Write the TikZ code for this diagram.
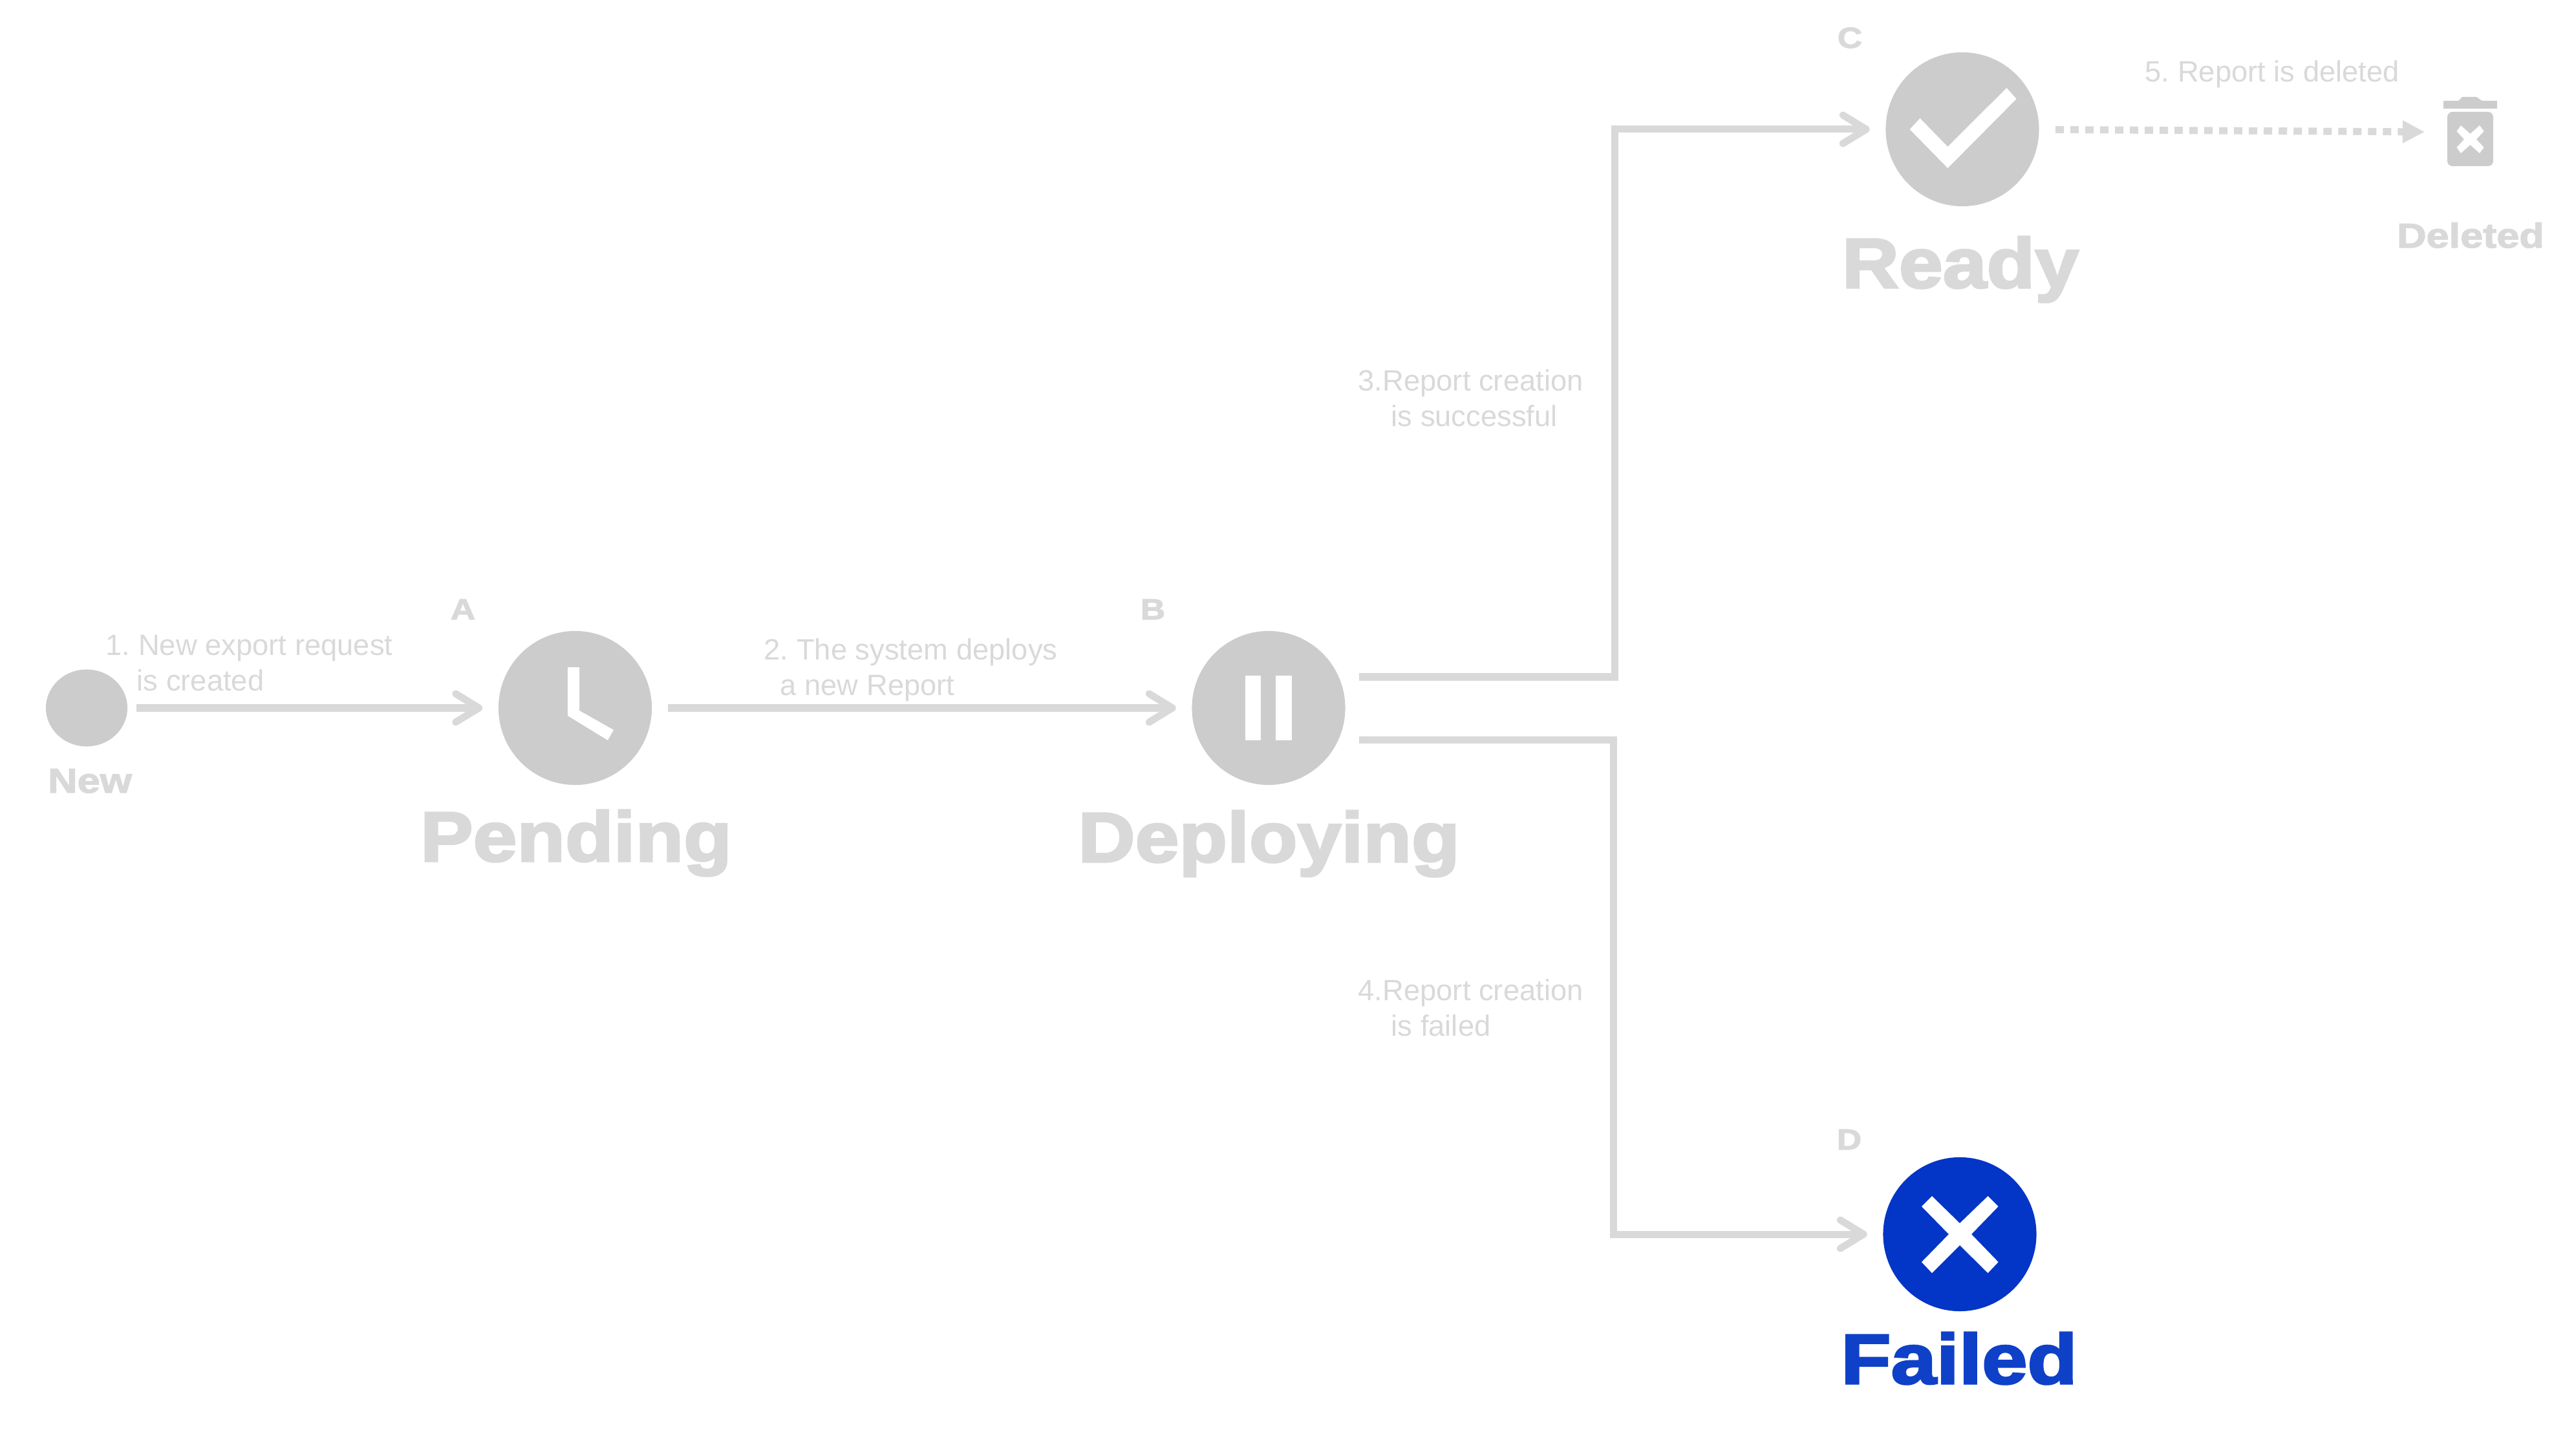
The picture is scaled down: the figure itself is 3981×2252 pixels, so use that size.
\documentclass[tikz,border=0pt]{standalone}
\usepackage{fontspec}
\setmainfont{Liberation Sans}
\newfontfamily\heavyfont[UprightFont=* Bold, FakeStretch=1.12, FakeBold=3]{Liberation Sans}
\newfontfamily\failedfont[UprightFont=* Bold, FakeStretch=1.16, FakeBold=3]{Liberation Sans}
\newfontfamily\smallheavyfont[UprightFont=* Bold, FakeStretch=1.18, FakeBold=2.5]{Liberation Sans}
\usetikzlibrary{shapes.geometric, arrows.meta, positioning}
\definecolor{linegray}{RGB}{217, 217, 217}
\definecolor{dotgray}{RGB}{204, 204, 204}
\definecolor{failblue}{RGB}{3, 53, 198}
\definecolor{failtext}{RGB}{15, 65, 200}

\begin{document}
\frenchspacing
\begin{tikzpicture}[
  x=0.01cm, y=-0.01cm,
  statedot/.style={ellipse, fill=#1, inner sep=0pt, minimum width=2.37cm, minimum height=2.38cm},
  flow/.style={draw=linegray, line width=0.11cm, shorten >=0.24cm, shorten <=0.24cm,
    -{Straight Barb[length=0.36cm, width=0.44cm, round]}},
  steptext/.style={text=linegray, anchor=west, align=left, inner sep=0pt,
    font=\fontsize{12.9}{15.7}\selectfont},
  bigtitle/.style={text=linegray, anchor=base, inner sep=0pt, font=\heavyfont\fontsize{31}{36}\selectfont},
  smalltitle/.style={text=linegray, anchor=base, inner sep=0pt, font=\smallheavyfont\fontsize{15.2}{18}\selectfont},
  lettertag/.style={text=linegray, anchor=base, inner sep=0pt, font=\smallheavyfont\fontsize{12.8}{15}\selectfont},
]
  \useasboundingbox (0,0) rectangle (3981,2252);

  % states
  \node[statedot=dotgray, minimum width=1.26cm, minimum height=1.19cm] (new) at (134,1095) {};
  \node[statedot=dotgray] (pending) at (889.5,1095) {};
  \node[statedot=dotgray] (deploying) at (1962,1095) {};
  \node[statedot=dotgray] (ready) at (3035,200) {};
  \node[statedot=failblue] (failed) at (3031,1909) {};

  % icons
  \fill[white] (878,1032) -- (896,1032) -- (896,1099) -- (949,1129) -- (940,1145) -- (878,1107) -- cycle;
  \fill[white] (1925.5,1045) rectangle (1950,1145);
  \fill[white] (1973,1045) rectangle (1998,1145);
  \fill[white] (2953.6,200) -- (2969.5,183) -- (3012.4,227) -- (3103.5,136) -- (3118.6,153) -- (3012.4,260) -- cycle;
  \fill[white] (2988,1850) -- (3031,1892) -- (3074.5,1850) -- (3090.6,1866) -- (3049,1909) -- (3090.6,1952)
    -- (3074.5,1969) -- (3031,1926) -- (2988,1969) -- (2972,1952) -- (3014,1909) -- (2972,1866) -- cycle;

  % trash can
  \fill[dotgray] (3779,156) -- (3802,156) -- (3808,150) -- (3830,150) -- (3839,156) -- (3862,156)
    -- (3862,168) -- (3779,168) -- cycle;
  \fill[dotgray, rounded corners=0.08cm] (3785,173) -- (3856,173) -- (3856,257) -- (3785,257) -- cycle;
  \fill[white] (3806,194) -- (3820.5,207) -- (3835,194) -- (3841.6,203) -- (3830,215.5) -- (3841.6,228)
    -- (3835,237) -- (3820.5,224) -- (3806,237) -- (3799.5,228) -- (3811,215.5) -- (3799.5,203) -- cycle;

  % connectors
  \coordinate (upstart) at (2102,1047);
  \coordinate (upbend) at (2497.5,1047);
  \coordinate (lowstart) at (2102,1144.5);
  \coordinate (lowbend) at (2495,1144.5);
  \coordinate (dotstart) at (3179,200.5);
  \coordinate (dotend) at (3750,204);
  \draw[flow, shorten <=0.13cm] (new) -- (pending);
  \draw[flow] (pending) -- (deploying);
  \draw[flow, shorten <=0pt] (upstart) -- (upbend) |- (ready);
  \draw[flow, shorten <=0pt] (lowstart) -- (lowbend) |- (failed);
  \draw[draw=linegray, line width=0.11cm, dash pattern=on 0.13cm off 0.10cm,
    -{Triangle[length=0.34cm, width=0.33cm]}] (dotstart) -- (dotend);

  % step texts
  \node[steptext] (steptextone) at (163,1026) {1. New export request\\\hspace*{0.48cm}is created};
  \node[steptext] (steptexttwo) at (1181,1036) {2. The system deploys\\\hspace*{0.25cm}a new Report};
  \node[steptext] (steptextthree) at (2100,616) {3.Report creation\\\hspace*{0.51cm}is successful};
  \node[steptext] (steptextfour) at (2100,1559) {4.Report creation\\\hspace*{0.51cm}is failed};
  \node[steptext] (steptextfive) at (3317,115) {5. Report is deleted};

  % titles
  \node[smalltitle] (newtitle) at (139,1226) {New};
  \node[bigtitle] (pendingtitle) at (891,1332) {Pending};
  \node[bigtitle] (deployingtitle) at (1962.5,1333) {Deploying};
  \node[bigtitle] (readytitle) at (3032,445) {Ready};
  \node[smalltitle] (deletedtitle) at (3821,383) {Deleted};
  \node[bigtitle, text=failtext, font=\failedfont\fontsize{31}{36}\selectfont] (failedtitle) at (3030,2140) {Failed};

  % letters
  \node[lettertag] (taga) at (716,958) {A};
  \node[lettertag] (tagb) at (1783,958) {B};
  \node[lettertag] (tagc) at (2861,74) {C};
  \node[lettertag] (tagd) at (2860,1778) {D};
\end{tikzpicture}
\end{document}
